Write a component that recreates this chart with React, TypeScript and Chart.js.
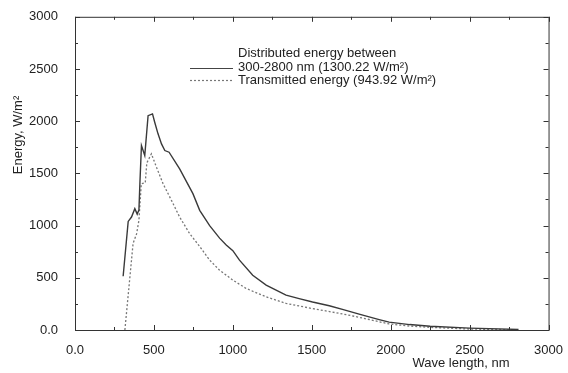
import React, { useEffect, useRef } from "react";
import { Chart, registerables } from "chart.js";
Chart.register(...registerables);

const distWl = [305, 337, 358, 379, 394, 405, 411, 421, 442, 463, 491, 505, 526, 548, 569, 596, 663, 747, 790, 853, 916, 958, 1000, 1042, 1126, 1211, 1337, 1420, 1505, 1611, 1700, 1800, 1927, 1990, 2120, 2250, 2500, 2810];
const distE = [515, 1040, 1082, 1162, 1110, 1150, 1400, 1767, 1671, 2053, 2070, 1990, 1879, 1783, 1719, 1703, 1544, 1306, 1146, 1000, 880, 815, 760, 669, 525, 430, 334, 300, 268, 232, 195, 152, 100, 75, 52, 36, 18, 5];

const transWl = [316, 368, 390, 405, 420, 445, 455, 484, 516, 558, 611, 663, 726, 790, 853, 916, 1000, 1084, 1211, 1337, 1505, 1600, 1750, 1900, 1990, 2120, 2250, 2500, 2800];
const transE = [0, 830, 920, 1050, 1400, 1410, 1600, 1688, 1560, 1401, 1242, 1082, 924, 800, 669, 573, 478, 398, 318, 255, 205, 180, 138, 88, 58, 38, 25, 9, 2];

const legendLines = [
  "Distributed energy between",
  "300-2800 nm (1300.22 W/m²)",
  "Transmitted energy (943.92 W/m²)",
];
const xTitle = "Wave length, nm";
const yTitle = "Energy, W/m²";

const FONT = "'Liberation Sans', Arial, sans-serif";

const decor = {
  id: "decor",
  afterDraw(chart: any) {
    const { ctx, chartArea: a, scales } = chart;
    const xs = scales.x, ys = scales.y;
    ctx.save();
    ctx.strokeStyle = "#333";
    ctx.lineWidth = 1;
    ctx.strokeRect(a.left + 0.5, a.top + 0.5, a.right - a.left, a.bottom - a.top);
    ctx.beginPath();
    for (let v = 0; v <= 3000; v += 250) {
      const major = v % 500 === 0;
      const L = major ? 5 : 3;
      const px = Math.round(xs.getPixelForValue(v)) + 0.5;
      ctx.moveTo(px, a.bottom); ctx.lineTo(px, a.bottom - L);
      ctx.moveTo(px, a.top); ctx.lineTo(px, a.top + L);
      const py = Math.round(ys.getPixelForValue(v)) + 0.5;
      ctx.moveTo(a.left, py); ctx.lineTo(a.left + L, py);
      ctx.moveTo(a.right, py); ctx.lineTo(a.right - L, py);
    }
    ctx.stroke();
    ctx.fillStyle = "#222";
    ctx.font = `13px ${FONT}`;
    ctx.textBaseline = "middle";
    ctx.textAlign = "left";
    const lx = 238;
    ctx.fillText(legendLines[0], lx, 53);
    ctx.fillText(legendLines[1], lx, 67);
    ctx.fillText(legendLines[2], lx, 80);
    ctx.strokeStyle = "#444";
    ctx.lineWidth = 1.2;
    ctx.beginPath(); ctx.moveTo(190, 68.5); ctx.lineTo(233, 68.5); ctx.stroke();
    ctx.strokeStyle = "#777";
    ctx.setLineDash([2, 2]);
    ctx.beginPath(); ctx.moveTo(190, 80.5); ctx.lineTo(233, 80.5); ctx.stroke();
    ctx.setLineDash([]);
    ctx.textAlign = "center";
    ctx.fillText(xTitle, 461, 363);
    ctx.translate(18, 135);
    ctx.rotate(-Math.PI / 2);
    ctx.fillText(yTitle, 0, 0);
    ctx.restore();
  },
};

export default function App() {
  const ref = useRef<HTMLCanvasElement>(null);
  useEffect(() => {
    document.body.style.margin = "0";
    const chart = new Chart(ref.current!, {
      type: "line",
      data: {
        datasets: [
          {
            label: "Distributed",
            data: distWl.map((x, i) => ({ x, y: distE[i] })),
            borderColor: "#3a3a3a",
            borderWidth: 1.4,
            pointRadius: 0,
            tension: 0,
          },
          {
            label: "Transmitted",
            data: transWl.map((x, i) => ({ x, y: transE[i] })),
            borderColor: "#777",
            borderWidth: 1.3,
            borderDash: [2, 2],
            pointRadius: 0,
            tension: 0,
          },
        ],
      },
      options: {
        animation: false,
        responsive: false,
        layout: { padding: { top: 16, right: 18, left: 0, bottom: 0 } },
        plugins: { legend: { display: false }, tooltip: { enabled: false } },
        scales: {
          x: {
            type: "linear",
            min: 0,
            max: 3000,
            grid: { display: false },
            border: { display: false },
            afterFit(s: any) { s.height = 43; },
            ticks: {
              stepSize: 500,
              padding: 5,
              color: "#222",
              font: { family: FONT, size: 13 },
              maxRotation: 0,
              callback: (v: any) => (v === 0 ? "0.0" : String(v)),
            },
          },
          y: {
            min: 0,
            max: 3000,
            grid: { display: false },
            border: { display: false },
            afterFit(s: any) { s.width = 75; },
            ticks: {
              stepSize: 500,
              padding: 9,
              color: "#222",
              font: { family: FONT, size: 13 },
              callback: (v: any) => (v === 0 ? "0.0" : String(v)),
            },
          },
        },
      },
      plugins: [decor],
    });
    return () => chart.destroy();
  }, []);
  return (
    <div style={{ position: "fixed", left: 0, top: 0, width: 568, height: 373, background: "#fff" }}>
      <canvas ref={ref} width={568} height={373} style={{ width: 568, height: 373 }} />
    </div>
  );
}
